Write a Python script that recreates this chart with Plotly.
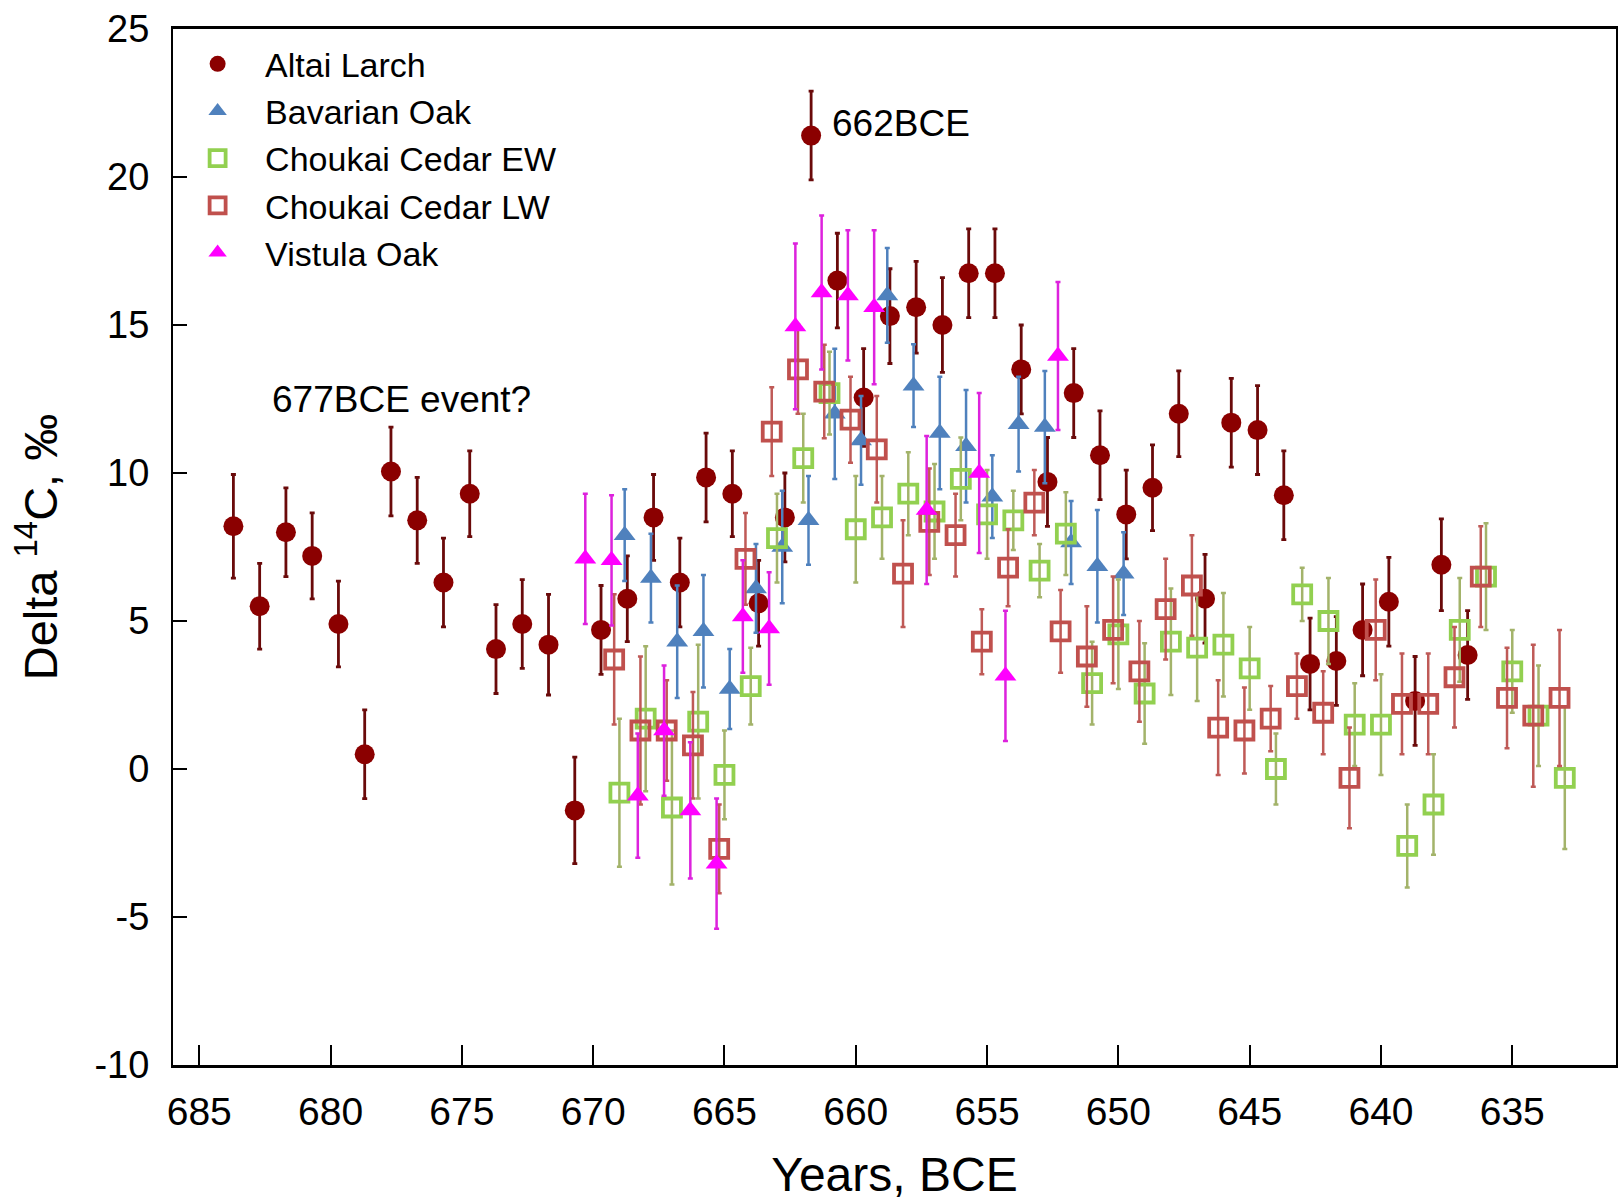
import plotly.graph_objects as go

# ---------------- data ----------------
altai_x = [683.7, 682.7, 681.7, 680.7, 679.7, 678.7, 677.7, 676.7, 675.7, 674.7,
           673.7, 672.7, 671.7, 670.7, 669.7, 668.7, 667.7, 666.7, 665.7, 664.7,
           663.7, 662.7, 661.7, 660.7, 659.7, 658.7, 657.7, 656.7, 655.7, 654.7,
           653.7, 652.7, 651.7, 650.7, 649.7, 648.7, 647.7, 646.7, 645.7, 644.7,
           643.7, 642.7, 641.7, 640.7, 639.7, 638.7, 637.7, 636.7]
altai_y = [8.2, 5.5, 8.0, 7.2, 4.9, 0.5, 10.05, 8.4, 6.3, 9.3,
           4.05, 4.9, 4.2, -1.4, 4.7, 5.75, 8.5, 6.3, 9.85, 9.3,
           5.6, 8.5, 21.4, 16.5, 12.55, 15.3, 15.6, 15.0, 16.75, 16.75,
           13.5, 9.7, 12.7, 10.6, 8.6, 9.5, 12.0, 5.75, 11.7, 11.45,
           9.25, 3.55, 3.65, 4.7, 5.65, 2.3, 6.9, 3.85]
altai_err = [1.75, 1.45, 1.5, 1.45, 1.45, 1.5, 1.5, 1.45, 1.5, 1.45,
             1.5, 1.5, 1.7, 1.8, 1.5, 1.45, 1.45, 1.5, 1.5, 1.45,
             1.45, 1.5, 1.5, 1.6, 1.65, 1.6, 1.55, 1.6, 1.5, 1.5,
             1.5, 1.5, 1.5, 1.5, 1.5, 1.45, 1.45, 1.5, 1.5, 1.5,
             1.5, 1.55, 1.5, 1.55, 1.5, 1.5, 1.55, 1.5]

bavarian_x = [668.8, 667.8, 666.8, 665.8, 664.8, 663.8, 662.8, 661.8, 660.8, 659.8,
              658.8, 657.8, 656.8, 655.8, 654.8, 653.8, 652.8, 651.8, 650.8, 649.8]
bavarian_y = [7.9, 6.45, 4.3, 4.65, 2.7, 6.1, 7.5, 8.4, 12.0, 11.1,
              16.0, 12.95, 11.35, 10.9, 9.2, 11.65, 11.55, 7.65, 6.85, 6.6]
bavarian_err = [1.55, 1.5, 1.9, 1.9, 1.35, 1.5, 1.9, 1.5, 2.2, 1.5,
                1.6, 1.4, 1.9, 1.9, 1.4, 1.6, 1.9, 1.4, 1.9, 1.4]

ew_x = [669, 668, 667, 666, 665, 664, 663, 662, 661, 660,
        659, 658, 657, 656, 655, 654, 653, 652, 651, 650,
        649, 648, 647, 646, 645, 644, 643, 642, 641, 640,
        639, 638, 637, 636, 635, 634, 633]
ew_y = [-0.8, 1.7, -1.3, 1.6, -0.2, 2.8, 7.8, 10.5, 12.7, 8.1,
        8.5, 9.3, 8.7, 9.8, 8.6, 8.4, 6.7, 7.95, 2.9, 4.55,
        2.55, 4.3, 4.1, 4.2, 3.4, 0.0, 5.9, 5.0, 1.5, 1.5,
        -2.6, -1.2, 4.7, 6.5, 3.3, 1.8, -0.3]
ew_err = [2.5, 2.45, 2.6, 2.6, 1.5, 1.3, 1.5, 1.5, 1.4, 1.8,
          1.4, 1.4, 1.6, 1.4, 1.5, 1.0, 0.9, 1.4, 1.4, 1.85,
          1.7, 1.8, 1.8, 1.75, 1.4, 1.2, 0.9, 1.45, 1.4, 1.7,
          1.4, 1.7, 1.75, 1.8, 1.4, 1.7, 2.4]

lw_x = [669.2, 668.2, 667.2, 666.2, 665.2, 664.2, 663.2, 662.2, 661.2, 660.2,
        659.2, 658.2, 657.2, 656.2, 655.2, 654.2, 653.2, 652.2, 651.2, 650.2,
        649.2, 648.2, 647.2, 646.2, 645.2, 644.2, 643.2, 642.2, 641.2, 640.2,
        639.2, 638.2, 637.2, 636.2, 635.2, 634.2, 633.2]
lw_y = [3.7, 1.3, 1.3, 0.8, -2.7, 7.1, 11.4, 13.5, 12.75, 11.8,
        10.8, 6.6, 8.35, 7.9, 4.3, 6.8, 9.0, 4.65, 3.8, 4.7,
        3.3, 5.4, 6.2, 1.4, 1.3, 1.7, 2.8, 1.9, -0.3, 4.7,
        2.2, 2.2, 3.1, 6.5, 2.4, 1.8, 2.4]
lw_err = [2.2, 2.5, 1.7, 1.8, 1.5, 1.55, 1.5, 1.5, 1.58, 1.45,
          1.8, 1.8, 1.8, 1.4, 1.1, 1.3, 1.1, 1.4, 1.7, 1.8,
          1.7, 1.7, 1.7, 1.6, 1.45, 1.1, 1.1, 1.4, 1.7, 1.7,
          1.7, 1.7, 1.7, 1.7, 1.7, 2.4, 2.3]

vistula_x = [670.3, 669.3, 668.3, 667.3, 666.3, 665.3, 664.3, 663.3,
             662.3, 661.3, 660.3, 659.3, 657.3, 655.3, 654.3, 652.3]
vistula_y = [7.1, 7.05, -0.9, 1.3, -1.4, -3.2, 5.15, 4.75,
             14.95, 16.1, 16.0, 15.6, 8.75, 10.0, 3.15, 13.95]
vistula_err = [2.2, 2.2, 2.1, 2.2, 2.3, 2.2, 1.9, 1.9,
               2.8, 2.6, 2.2, 2.6, 2.5, 2.7, 2.2, 2.5]

x_ticks = [685, 680, 675, 670, 665, 660, 655, 650, 645, 640, 635]
y_ticks = [-10, -5, 0, 5, 10, 15, 20, 25]

FONT = "Arial, Liberation Sans, sans-serif"

fig = go.Figure()


def add_series(name, xs, ys, errs, symbol, mcolor, ecolor, size, lw=0, ethick=2.5):
    marker = dict(symbol=symbol, size=size, color=mcolor)
    if lw:
        marker["line"] = dict(color=mcolor, width=lw)
    else:
        marker["line"] = dict(width=0)
    fig.add_trace(go.Scatter(
        x=xs, y=ys, mode="markers", name=name, marker=marker,
        error_y=dict(type="data", array=errs, visible=True,
                     color=ecolor, thickness=ethick, width=2.5),
    ))


add_series("Altai Larch", altai_x, altai_y, altai_err, "circle",
           "#8B0000", "#6A0A0A", 20, ethick=2.8)
add_series("Bavarian Oak", bavarian_x, bavarian_y, bavarian_err, "triangle-up",
           "#4F81BD", "#4F81BD", 19)
add_series("Choukai Cedar EW", ew_x, ew_y, ew_err, "square-open",
           "#92D050", "#A3B36A", 18, lw=3.8)
add_series("Choukai Cedar LW", lw_x, lw_y, lw_err, "square-open",
           "#C0504D", "#BF5A57", 18, lw=3.8)
add_series("Vistula Oak", vistula_x, vistula_y, vistula_err, "triangle-up",
           "#FF00FF", "#DD22DD", 19)

fig.add_annotation(x=661.0, y=21.8, xref="x", yref="y", text="662BCE",
                   showarrow=False, xanchor="left", yanchor="middle",
                   font=dict(family=FONT, size=37, color="black"))
fig.add_annotation(x=682.3, y=12.5, xref="x", yref="y", text="677BCE event?",
                   showarrow=False, xanchor="left", yanchor="middle",
                   font=dict(family=FONT, size=37, color="black"))

fig.update_layout(
    width=1618, height=1202,
    margin=dict(l=173, r=2, t=29, b=137, autoexpand=False),
    paper_bgcolor="white", plot_bgcolor="white",
    font=dict(family=FONT, color="black"),
    showlegend=True,
    legend=dict(x=-0.002, y=0.994, xanchor="left", yanchor="top",
                bgcolor="rgba(0,0,0,0)", borderwidth=0,
                font=dict(family=FONT, size=34, color="black"),
                tracegroupgap=0, itemwidth=85),
)

fig.update_xaxes(
    range=[686.0, 631.05], tickmode="array", tickvals=x_ticks,
    ticktext=[str(v) for v in x_ticks],
    ticks="inside", ticklen=20, tickwidth=1.5, tickcolor="black",
    showline=True, linecolor="black", linewidth=3, mirror=True,
    showgrid=False, zeroline=False,
    tickfont=dict(family=FONT, size=39, color="black"),
    ticklabelstandoff=10,
    title=dict(text="Years, BCE", standoff=26,
               font=dict(family=FONT, size=48, color="black")),
)
fig.update_yaxes(
    range=[-10, 25], tickmode="array", tickvals=y_ticks,
    ticktext=[str(v) for v in y_ticks],
    ticks="inside", ticklen=14, tickwidth=1.5, tickcolor="black",
    showline=True, linecolor="black", linewidth=2, mirror=True,
    showgrid=False, zeroline=False,
    tickfont=dict(family=FONT, size=38, color="black"),
    ticklabelstandoff=14,
    title=dict(text="Delta <sup>14</sup>C, ‰", standoff=22,
               font=dict(family=FONT, size=47, color="black")),
)

fig.write_html("out.html")
